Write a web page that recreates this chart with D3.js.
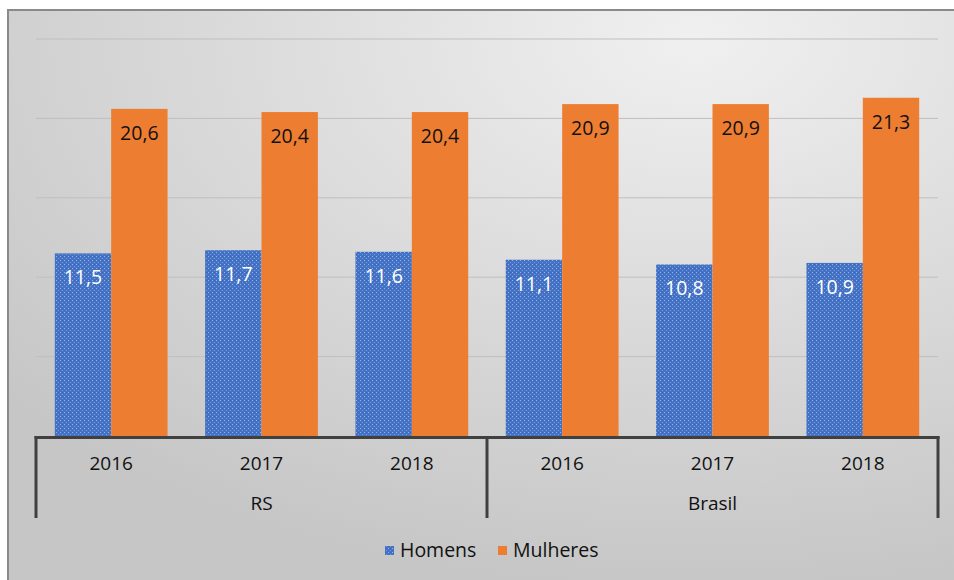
<!DOCTYPE html>
<html>
<head>
<meta charset="utf-8">
<script src="https://cdn.jsdelivr.net/npm/d3@7"></script>
<style>
  body { margin: 0; background: #fff; }
  svg { display: block; font-family: "Open Sans", "Noto Sans", sans-serif; }
</style>
</head>
<body>
<div id="chart"></div>
<script>
// data
var groups = ["RS", "Brasil"]
var years = ["2016", "2017", "2018"]
var seriesNames = ["Homens", "Mulheres"]
var homens = [11.5, 11.7, 11.6, 11.1, 10.8, 10.9]
var mulheres = [20.6, 20.4, 20.4, 20.9, 20.9, 21.3]
var yTicks = [0, 5, 10, 15, 20, 25]

var W = 954, H = 580
var m = { left: 36, right: 16, top: 39, bottom: 144 }
var colors = { Homens: "#4472c4", Mulheres: "#ed7d31" }

var svg = d3.select("#chart").append("svg")
svg.attr("width", W).attr("height", H)

var defs = svg.append("defs")
var grad = defs.append("radialGradient")
               .attr("id", "bg")
               .attr("cx", "72%").attr("cy", "5%").attr("r", "95%")
grad.append("stop").attr("offset", "0%").attr("stop-color", "#f0f0f0")
grad.append("stop").attr("offset", "100%").attr("stop-color", "#c6c6c6")

// dotted fill for the blue bars
var pat = defs.append("pattern")
              .attr("id", "dots")
              .attr("width", 4).attr("height", 4)
              .attr("patternUnits", "userSpaceOnUse")
pat.append("rect").attr("width", 4).attr("height", 4).attr("fill", "#4472c4")
pat.append("rect").attr("x", 0).attr("y", 0).attr("width", 1).attr("height", 1).attr("fill", "#9ab2e4")
pat.append("rect").attr("x", 2).attr("y", 2).attr("width", 1).attr("height", 1).attr("fill", "#7898da")
pat.append("rect").attr("x", 2).attr("y", 0).attr("width", 1).attr("height", 1).attr("fill", "#3b66b8")

svg.append("rect")
   .attr("x", 8).attr("y", 10)
   .attr("width", W).attr("height", H)
   .attr("fill", "url(#bg)")
   .attr("stroke", "#8a8a8a").attr("stroke-width", 2)

var rows = years.length * groups.length
var cats = d3.range(rows)

var x = d3.scaleBand()
          .domain(cats)
          .range([m.left, W - m.right])
          .paddingInner(0.25).paddingOuter(0.125)
var xs = d3.scaleBand()
           .domain(seriesNames)
           .range([0, x.bandwidth()])
var y = d3.scaleLinear()
          .domain([0, 25])
          .range([H - m.bottom, m.top])

// gridlines
svg.append("g").selectAll("line")
   .data(yTicks.slice(1))
   .enter().append("line")
   .attr("x1", m.left).attr("x2", W - m.right)
   .attr("y1", function(d) { return y(d) })
   .attr("y2", function(d) { return y(d) })
   .attr("stroke", "#bfbfbf").attr("stroke-width", 1)

var data = []
cats.forEach(function(i) {
  data.push({ cat: i, s: "Homens", v: homens[i] })
  data.push({ cat: i, s: "Mulheres", v: mulheres[i] })
})

var fmt = function(v) { return d3.format(".1f")(v).replace(".", ",") }

var bars = svg.append("g").selectAll("g")
              .data(data)
              .enter().append("g")
bars.append("rect")
    .attr("x", function(d) { return x(d.cat) + xs(d.s) })
    .attr("y", function(d) { return y(d.v) })
    .attr("width", xs.bandwidth())
    .attr("height", function(d) { return y(0) - y(d.v) })
    .attr("fill", function(d) { return d.s == "Homens" ? "url(#dots)" : colors.Mulheres })
bars.append("text")
    .text(function(d) { return fmt(d.v) })
    .attr("x", function(d) { return x(d.cat) + xs(d.s) + xs.bandwidth() / 2 })
    .attr("y", function(d) { return y(d.v) + 31 })
    .attr("text-anchor", "middle")
    .attr("font-size", 19.5)
    .attr("fill", function(d) { return d.s == "Homens" ? "#ffffff" : "#111111" })

// multi-level category axis
var axisY = y(0)
var step = x.step()
var ax = svg.append("g")
ax.append("line")
  .attr("x1", m.left - 1.5).attr("x2", W - m.right + 1.5)
  .attr("y1", axisY + 1.5).attr("y2", axisY + 1.5)
  .attr("stroke", "#404040").attr("stroke-width", 3)
ax.selectAll("line.sep")
  .data(d3.range(groups.length + 1))
  .enter().append("line")
  .attr("class", "sep")
  .attr("x1", function(d) { return m.left + d * years.length * step })
  .attr("x2", function(d) { return m.left + d * years.length * step })
  .attr("y1", axisY).attr("y2", axisY + 82)
  .attr("stroke", "#404040").attr("stroke-width", 3)
ax.selectAll("text.yr")
  .data(cats)
  .enter().append("text")
  .attr("class", "yr")
  .text(function(d) { return years[d % years.length] })
  .attr("x", function(d) { return x(d) + x.bandwidth() / 2 })
  .attr("y", axisY + 34)
  .attr("text-anchor", "middle")
  .attr("font-size", 19).attr("fill", "#111")
ax.selectAll("text.grp")
  .data(groups)
  .enter().append("text")
  .attr("class", "grp")
  .text(function(d) { return d })
  .attr("x", function(d, i) { return m.left + (i + 0.5) * years.length * step })
  .attr("y", axisY + 74)
  .attr("text-anchor", "middle")
  .attr("font-size", 19).attr("fill", "#111")

// legend
var leg = svg.append("g")
var legX = [385, 498]
seriesNames.forEach(function(s, i) {
  leg.append("rect")
     .attr("x", legX[i]).attr("y", 546)
     .attr("width", 9).attr("height", 9)
     .attr("fill", s == "Homens" ? "url(#dots)" : colors[s])
  leg.append("text")
     .text(s)
     .attr("x", legX[i] + 15).attr("y", 557)
     .attr("font-size", 19.5).attr("fill", "#111")
})
</script>
</body>
</html>
